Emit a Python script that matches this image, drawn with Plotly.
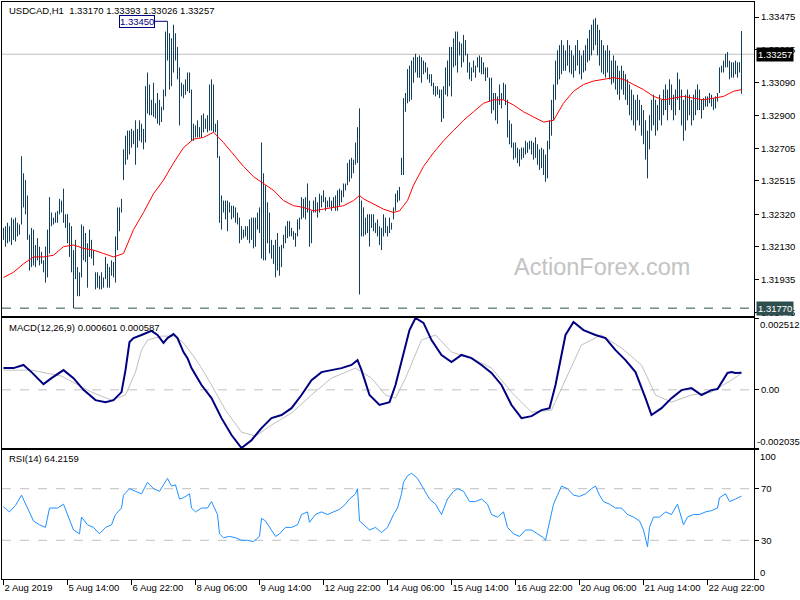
import plotly.graph_objects as go

# ---------------- data ----------------
symbol_header = "USDCAD,H1  1.33170 1.33393 1.33026 1.33257"
macd_header = "MACD(12,26,9) 0.000601 0.000587"
rsi_header = "RSI(14) 64.2159"

time_tick_idx = [0, 32, 64, 96, 128, 160, 192, 224, 256, 288, 320, 352]
time_tick_text = ["2 Aug 2019", "5 Aug 14:00", "6 Aug 22:00", "8 Aug 06:00", "9 Aug 14:00",
                  "12 Aug 22:00", "14 Aug 06:00", "15 Aug 14:00", "16 Aug 22:00",
                  "20 Aug 06:00", "21 Aug 14:00", "22 Aug 22:00"]

price_ticks = [1.33475, 1.33285, 1.33090, 1.32900, 1.32705, 1.32515, 1.32320, 1.32130, 1.31935, 1.31745]
macd_max = 0.002512
macd_min = -0.002035

high = [
1.3224,1.3225,1.3227,1.3225,1.3230,1.3229,1.3230,1.3227,1.3226,1.3266,
1.3256,1.3252,1.3243,1.3220,1.3224,1.3223,1.3214,1.3218,1.3213,1.3210,
1.3205,1.3213,1.3223,1.3242,1.3233,1.3230,1.3233,1.3234,1.3241,1.3240,
1.3247,1.3232,1.3232,1.3227,1.3225,1.3211,1.3217,1.3201,1.3198,1.3226,
1.3225,1.3221,1.3215,1.3223,1.3217,1.3211,1.3198,1.3198,1.3196,1.3198,
1.3195,1.3207,1.3203,1.3201,1.3205,1.3204,1.3219,1.3236,1.3236,1.3241,
1.3270,1.3278,1.3281,1.3281,1.3282,1.3281,1.3287,1.3282,1.3287,1.3285,
1.3282,1.3307,1.3315,1.3308,1.3299,1.3309,1.3297,1.3303,1.3299,1.3295,
1.3305,1.3339,1.3345,1.3338,1.3335,1.3343,1.3338,1.3330,1.3318,1.3309,
1.3308,1.3311,1.3315,1.3315,1.3305,1.3285,1.3284,1.3287,1.3283,1.3290,
1.3291,1.3288,1.3290,1.3308,1.3311,1.3308,1.3285,1.3287,1.3266,1.3243,
1.3240,1.3240,1.3240,1.3239,1.3237,1.3237,1.3236,1.3233,1.3230,1.3225,
1.3223,1.3225,1.3225,1.3229,1.3230,1.3230,1.3230,1.3233,1.3236,1.3274,
1.3256,1.3249,1.3239,1.3233,1.3217,1.3214,1.3217,1.3221,1.3213,1.3214,
1.3220,1.3225,1.3228,1.3228,1.3224,1.3222,1.3221,1.3229,1.3230,1.3242,
1.3241,1.3242,1.3250,1.3240,1.3234,1.3240,1.3242,1.3239,1.3244,1.3243,
1.3246,1.3242,1.3240,1.3242,1.3240,1.3242,1.3243,1.3246,1.3247,1.3246,
1.3250,1.3250,1.3262,1.3264,1.3265,1.3264,1.3274,1.3283,1.3294,1.3240,
1.3236,1.3230,1.3232,1.3232,1.3232,1.3232,1.3227,1.3229,1.3225,1.3224,
1.3232,1.3230,1.3225,1.3230,1.3227,1.3236,1.3244,1.3246,1.3248,1.3265,
1.3300,1.3303,1.3317,1.3319,1.3322,1.3324,1.3326,1.3324,1.3325,1.3324,
1.3322,1.3321,1.3318,1.3314,1.3314,1.3309,1.3307,1.3307,1.3305,1.3305,
1.3307,1.3318,1.3322,1.3330,1.3330,1.3335,1.3339,1.3339,1.3333,1.3332,
1.3337,1.3334,1.3326,1.3321,1.3318,1.3322,1.3319,1.3324,1.3325,1.3324,
1.3321,1.3318,1.3318,1.3312,1.3312,1.3303,1.3303,1.3301,1.3308,1.3303,
1.3309,1.3308,1.3299,1.3287,1.3285,1.3274,1.3274,1.3271,1.3270,1.3271,
1.3271,1.3275,1.3274,1.3275,1.3275,1.3274,1.3277,1.3273,1.3270,1.3271,
1.3270,1.3267,1.3275,1.3287,1.3299,1.3308,1.3322,1.3328,1.3331,1.3334,
1.3331,1.3328,1.3334,1.3331,1.3328,1.3325,1.3331,1.3334,1.3328,1.3325,
1.3328,1.3331,1.3335,1.3340,1.3343,1.3346,1.3347,1.3343,1.3340,1.3334,
1.3331,1.3328,1.3331,1.3328,1.3322,1.3325,1.3322,1.3319,1.3316,1.3319,
1.3316,1.3314,1.3311,1.3308,1.3305,1.3302,1.3299,1.3302,1.3299,1.3296,
1.3293,1.3287,1.3281,1.3290,1.3299,1.3302,1.3299,1.3296,1.3302,1.3299,
1.3305,1.3308,1.3305,1.3311,1.3308,1.3302,1.3305,1.3315,1.3311,1.3305,
1.3299,1.3302,1.3305,1.3302,1.3299,1.3302,1.3305,1.3308,1.3305,1.3299,
1.3300,1.3301,1.3301,1.3303,1.3302,1.3300,1.3301,1.3303,1.3318,1.3319,
1.3322,1.3326,1.3327,1.3322,1.3321,1.3321,1.3322,1.3321,1.3321,1.33393]

low = [
1.3217,1.3213,1.3215,1.3216,1.3214,1.3217,1.3216,1.3219,1.3220,1.3226,
1.3236,1.3232,1.3217,1.3199,1.3201,1.3202,1.3201,1.3205,1.3202,1.3203,
1.3198,1.3192,1.3195,1.3209,1.3225,1.3226,1.3227,1.3227,1.3232,1.3233,
1.3227,1.3224,1.3215,1.3207,1.3198,1.3177,1.3194,1.3184,1.3184,1.3195,
1.3205,1.3204,1.3189,1.3207,1.3206,1.3202,1.3188,1.3189,1.3188,1.3188,
1.3189,1.3194,1.3189,1.3189,1.3196,1.3195,1.3192,1.3211,1.3222,1.3233,
1.3252,1.3261,1.3264,1.3267,1.3271,1.3273,1.3261,1.3271,1.3275,1.3274,
1.3270,1.3274,1.3291,1.3290,1.3290,1.3289,1.3288,1.3285,1.3284,1.3286,
1.3293,1.3301,1.3322,1.3305,1.3307,1.3315,1.3322,1.3311,1.3284,1.3301,
1.3300,1.3302,1.3304,1.3303,1.3275,1.3275,1.3277,1.3277,1.3277,1.3277,
1.3280,1.3282,1.3280,1.3281,1.3281,1.3280,1.3280,1.3265,1.3227,1.3223,
1.3233,1.3229,1.3222,1.3233,1.3229,1.3230,1.3227,1.3226,1.3215,1.3217,
1.3218,1.3219,1.3217,1.3215,1.3217,1.3212,1.3213,1.3223,1.3221,1.3206,
1.3205,1.3205,1.3215,1.3209,1.3206,1.3203,1.3195,1.3199,1.3196,1.3201,
1.3212,1.3215,1.3218,1.3219,1.3219,1.3217,1.3213,1.3219,1.3223,1.3229,
1.3230,1.3229,1.3233,1.3213,1.3215,1.3233,1.3233,1.3230,1.3233,1.3236,
1.3239,1.3234,1.3236,1.3236,1.3234,1.3236,1.3234,1.3234,1.3237,1.3239,
1.3242,1.3246,1.3249,1.3251,1.3253,1.3256,1.3261,1.3262,1.3185,1.3219,
1.3219,1.3220,1.3221,1.3213,1.3224,1.3222,1.3221,1.3219,1.3214,1.3211,
1.3219,1.3221,1.3219,1.3221,1.3223,1.3229,1.3234,1.3239,1.3240,1.3255,
1.3255,1.3292,1.3297,1.3298,1.3299,1.3309,1.3315,1.3312,1.3312,1.3309,
1.3314,1.3315,1.3311,1.3309,1.3307,1.3302,1.3301,1.3302,1.3300,1.3286,
1.3288,1.3302,1.3301,1.3307,1.3301,1.3318,1.3319,1.3315,1.3325,1.3318,
1.3321,1.3325,1.3315,1.3311,1.3310,1.3315,1.3312,1.3318,1.3315,1.3314,
1.3314,1.3310,1.3312,1.3298,1.3291,1.3293,1.3287,1.3285,1.3296,1.3294,
1.3299,1.3296,1.3277,1.3273,1.3271,1.3264,1.3265,1.3262,1.3260,1.3264,
1.3265,1.3267,1.3268,1.3270,1.3267,1.3264,1.3265,1.3261,1.3258,1.3259,
1.3255,1.3251,1.3253,1.3270,1.3278,1.3287,1.3299,1.3308,1.3311,1.3314,
1.3316,1.3316,1.3319,1.3315,1.3314,1.3312,1.3316,1.3319,1.3314,1.3311,
1.3315,1.3316,1.3321,1.3322,1.3325,1.3328,1.3331,1.3325,1.3319,1.3315,
1.3314,1.3312,1.3315,1.3311,1.3308,1.3309,1.3305,1.3302,1.3299,1.3305,
1.3302,1.3299,1.3296,1.3290,1.3287,1.3284,1.3281,1.3287,1.3284,1.3278,
1.3273,1.3264,1.3253,1.3270,1.3281,1.3284,1.3278,1.3281,1.3287,1.3284,
1.3290,1.3293,1.3287,1.3296,1.3293,1.3287,1.3290,1.3299,1.3293,1.3284,
1.3275,1.3281,1.3287,1.3290,1.3284,1.3287,1.3290,1.3293,1.3293,1.3288,
1.3293,1.3295,1.3295,1.3297,1.3295,1.3293,1.3294,1.3298,1.3303,1.3315,
1.3315,1.3318,1.3318,1.3311,1.3312,1.3312,1.3314,1.3312,1.3315,1.33026]

ma_idx = [0,5,10,15,20,25,30,35,40,45,50,55,60,62,65,70,75,80,85,90,95,100,105,110,115,120,125,
          130,135,140,145,150,155,160,165,170,175,178,180,185,190,195,198,200,202,205,210,215,220,
          225,230,235,240,245,250,255,260,265,270,275,280,285,290,295,300,305,310,315,320,325,330,
          335,340,345,350,355,360,365,369]
ma_val = [1.3195,1.3198,1.3203,1.3207,1.3207,1.3208,1.3213,1.3214,1.3212,1.3211,1.3209,1.3207,1.3209,
          1.3215,1.3223,1.3233,1.3244,1.3252,1.3262,1.3271,1.3276,1.3277,1.3280,1.3274,1.3267,1.3260,
          1.3254,1.3250,1.3246,1.3240,1.3237,1.3236,1.3234,1.3235,1.3236,1.3237,1.3240,1.3243,1.3241,
          1.3238,1.3235,1.3233,1.3234,1.3237,1.3240,1.3249,1.3260,1.3268,1.3275,1.3281,1.3287,1.3292,
          1.3297,1.3299,1.3299,1.3296,1.3292,1.3289,1.3286,1.3287,1.3297,1.3304,1.3308,1.3310,1.3311,
          1.3312,1.3311,1.3308,1.3305,1.3301,1.3299,1.3300,1.3301,1.3300,1.3299,1.3300,1.3301,1.3304,
          1.3305]

macd_idx = [0,5,10,14,20,24,30,35,40,46,51,55,59,61,63,65,69,72,74,77,80,82,85,87,90,92,94,99,104,
            109,114,119,124,129,134,139,144,149,154,159,164,169,174,177,179,183,188,193,196,199,203,
            206,210,214,219,224,229,234,239,244,249,254,259,264,269,273,276,281,285,290,296,301,306,
            311,316,321,324,329,334,339,344,349,354,357,360,362,364,366,369]
macd_val = [0.00076,0.00076,0.00087,0.00062,0.00020,0.00041,0.00069,0.00041,0.00000,-0.00036,-0.00043,
            -0.00036,-0.00008,0.00069,0.00167,0.00181,0.00192,0.00199,0.00206,0.00192,0.00164,0.00181,
            0.00195,0.00181,0.00132,0.00111,0.00076,0.00017,-0.00029,-0.00099,-0.00158,-0.002035,-0.00176,
            -0.00134,-0.00099,-0.00088,-0.00064,-0.00018,0.00034,0.00062,0.00069,0.00076,0.00087,0.00104,
            0.00069,-0.00018,-0.00053,-0.00043,0.00017,0.00104,0.00209,0.002512,0.00234,0.00174,0.00122,
            0.00097,0.00122,0.00111,0.00087,0.00059,0.00017,-0.00053,-0.00099,-0.00092,-0.00071,-0.00064,
            0.00017,0.00192,0.00237,0.00209,0.00192,0.00181,0.00139,0.00104,0.00062,-0.00029,-0.00088,
            -0.00064,-0.00029,-0.00001,0.00006,-0.00018,-0.00001,0.00003,0.00034,0.00059,0.00062,0.00059,
            0.000601]

signal_idx = [0,14,29,44,54,61,66,69,72,79,86,90,95,99,104,111,119,126,134,144,154,164,176,184,191,196,
              201,209,216,224,234,244,254,264,274,281,289,299,309,319,326,334,344,354,364,369]
signal_val = [0.00069,0.00069,0.00048,-0.00008,-0.00036,-0.00018,0.00062,0.00139,0.00174,0.00188,0.00188,
              0.00164,0.00118,0.00076,0.00017,-0.00071,-0.00148,-0.00162,-0.00123,-0.00081,-0.00018,
              0.00041,0.00076,0.00041,-0.00018,-0.00029,0.00041,0.00174,0.00192,0.00132,0.00111,0.00076,
              -0.00008,-0.00078,-0.00071,0.00034,0.00157,0.00192,0.00146,0.00087,-0.00018,-0.00043,
              -0.00018,-0.00008,0.00034,0.000587]

rsi_idx = [0,3,6,9,12,15,18,21,23,27,30,33,35,38,39,42,45,48,51,54,56,59,60,63,66,69,72,75,78,81,82,
           84,86,88,90,93,94,96,99,102,104,107,108,110,113,116,119,122,125,128,129,131,134,136,138,141,
           144,147,149,152,153,156,159,162,165,168,171,173,176,177,178,180,183,186,189,192,195,197,199,
           200,202,204,207,210,213,216,219,222,225,227,230,233,236,239,242,244,247,250,252,255,258,261,
           264,267,270,271,273,275,277,279,282,285,288,291,294,296,298,300,303,306,309,312,315,318,320,
           322,323,325,328,331,334,337,340,342,345,348,351,354,357,358,361,363,366,369]
rsi_val = [56,52,57,65,55,45,42,40,55,55,58,45,38,35,48,42,40,35,40,42,50,55,65,70,68,66,75,70,68,76,78,
           72,73,62,63,66,55,52,55,55,60,50,35,32,33,32,30,30,29,33,47,45,38,33,35,40,40,42,50,52,44,50,
           52,50,52,54,58,62,66,70,45,42,38,40,36,40,50,55,66,75,80,82,78,70,62,58,50,62,68,70,68,60,60,
           62,58,50,48,52,40,35,33,38,38,35,32,30,45,58,65,72,70,65,64,66,70,72,65,60,58,55,55,50,48,45,
           38,25,40,48,48,52,50,58,42,48,50,50,52,53,55,63,66,60,62,64.2159]

bid_price = 1.33257
low_price = 1.31770
high_mark_idx = 82
high_mark_price = 1.33450

# ---------------- figure ----------------
FONT = "Liberation Sans, Arial, sans-serif"
BAR_COLOR = "#123f5e"

bx, by = [], []
for i, (h, l) in enumerate(zip(high, low)):
    bx += [i, i, None]
    by += [l, h, None]

fig = go.Figure()
fig.add_trace(go.Scatter(x=bx, y=by, mode="lines", line=dict(color=BAR_COLOR, width=1),
                         xaxis="x", yaxis="y", hoverinfo="skip"))
fig.add_trace(go.Scatter(x=ma_idx, y=ma_val, mode="lines", line=dict(color="#ff0000", width=1),
                         xaxis="x", yaxis="y", hoverinfo="skip"))
fig.add_trace(go.Scatter(x=signal_idx, y=signal_val, mode="lines", line=dict(color="#c0c0c0", width=1),
                         xaxis="x2", yaxis="y2", hoverinfo="skip"))
fig.add_trace(go.Scatter(x=macd_idx, y=macd_val, mode="lines", line=dict(color="#000080", width=2),
                         xaxis="x2", yaxis="y2", hoverinfo="skip"))
fig.add_trace(go.Scatter(x=rsi_idx, y=rsi_val, mode="lines", line=dict(color="#1e90ff", width=1),
                         xaxis="x3", yaxis="y3", hoverinfo="skip"))

XR = [-0.75, 375.25]
axis_common = dict(showline=True, mirror=True, linecolor="black", linewidth=1,
                   showgrid=False, zeroline=False, automargin=False)
tickfont = dict(family=FONT, size=9.5, color="black")

fig.update_layout(
    width=800, height=600,
    margin=dict(l=2, r=46, t=2, b=21, pad=0, autoexpand=False),
    paper_bgcolor="white", plot_bgcolor="white",
    showlegend=False,
    xaxis=dict(domain=[0, 1], anchor="y", range=XR, showticklabels=False, ticks="", **axis_common),
    xaxis2=dict(domain=[0, 1], anchor="y2", matches="x", range=XR, showticklabels=False, ticks="", **axis_common),
    xaxis3=dict(domain=[0, 1], anchor="y3", matches="x", range=XR, tickmode="array",
                tickvals=time_tick_idx, ticktext=time_tick_text, ticks="outside", ticklen=5,
                tickcolor="black", tickangle=0, ticklabelposition="outside right",
                tickfont=tickfont, **axis_common),
    yaxis=dict(domain=[0.4558, 1], anchor="x", side="right", range=[1.31724, 1.33563],
               tickmode="array", tickvals=price_ticks, ticktext=[f"{v:.5f}" for v in price_ticks],
               ticks="outside", ticklen=4, tickcolor="black", tickfont=tickfont, **axis_common),
    yaxis2=dict(domain=[0.2270, 0.4523], anchor="x2", side="right", range=[macd_min, macd_max],
                tickmode="array", tickvals=[macd_max, 0, macd_min], ticktext=["", "0.00", ""],
                ticks="outside", ticklen=4, tickcolor="black", tickfont=tickfont, **axis_common),
    yaxis3=dict(domain=[0, 0.2236], anchor="x3", side="right", range=[0, 100],
                tickmode="array", tickvals=[0, 30, 70, 100], ticktext=["", "30", "70", ""],
                ticks="outside", ticklen=4, tickcolor="black", tickfont=tickfont, **axis_common),
)

shapes = [
    dict(type="line", xref="x domain", yref="y", x0=0, x1=1, y0=bid_price, y1=bid_price,
         line=dict(color="#c0c0c0", width=1), layer="below"),
    dict(type="line", xref="x domain", yref="y", x0=0, x1=1, y0=low_price, y1=low_price,
         line=dict(color="#2f4f4f", width=1, dash="dash")),
    dict(type="line", xref="x2 domain", yref="y2", x0=0, x1=1, y0=0, y1=0,
         line=dict(color="#c0c0c0", width=1, dash="dash"), layer="below"),
    dict(type="line", xref="x3 domain", yref="y3", x0=0, x1=1, y0=70, y1=70,
         line=dict(color="#c0c0c0", width=1, dash="dash"), layer="below"),
    dict(type="line", xref="x3 domain", yref="y3", x0=0, x1=1, y0=30, y1=30,
         line=dict(color="#c0c0c0", width=1, dash="dash"), layer="below"),
]
fig.update_layout(shapes=shapes)

small = dict(family=FONT, size=9.5, color="black")
ann = [
    dict(text=symbol_header, xref="paper", yref="paper", x=0.0066, y=0.986, xanchor="left", yanchor="middle",
         showarrow=False, font=small),
    dict(text=macd_header, xref="paper", yref="paper", x=0.0066, y=0.4367, xanchor="left", yanchor="middle",
         showarrow=False, font=small),
    dict(text=rsi_header, xref="paper", yref="paper", x=0.0066, y=0.208, xanchor="left", yanchor="middle",
         showarrow=False, font=small),
    # scale extremes of the indicator windows (MT4 draws them inside the edges)
    dict(text=f"{macd_max:.6f}", xref="paper", yref="y2", x=1, y=macd_max, xanchor="left", yanchor="top",
         xshift=4, yshift=1, showarrow=False, font=small),
    dict(text=f"{macd_min:.6f}", xref="paper", yref="y2", x=1, y=macd_min, xanchor="left", yanchor="bottom",
         xshift=1, yshift=-1, showarrow=False, font=small),
    dict(text="100", xref="paper", yref="y3", x=1, y=100, xanchor="left", yanchor="top",
         xshift=4, yshift=1, showarrow=False, font=small),
    dict(text="0", xref="paper", yref="y3", x=1, y=0, xanchor="left", yanchor="bottom",
         xshift=4, yshift=-1, showarrow=False, font=small),
    dict(text="ActionForex.com", xref="paper", yref="paper", x=0.798, y=0.5407, xanchor="center",
         yanchor="middle", showarrow=False, font=dict(family=FONT, size=23.5, color="#c3c3c3")),
    dict(text=f"{high_mark_price:.5f}", xref="x", yref="y", x=high_mark_idx, y=high_mark_price,
         showarrow=True, ax=-31, ay=0, arrowhead=0, arrowwidth=1, arrowcolor="#000080", standoff=0,
         bgcolor="white", bordercolor="#000080", borderwidth=1, borderpad=0,
         font=dict(family=FONT, size=9.5, color="#000080")),
    dict(text=f"{bid_price:.5f}", xref="paper", yref="y", x=1, y=bid_price, xanchor="left", yanchor="middle",
         xshift=2, showarrow=False, bgcolor="black", borderpad=1,
         font=dict(family=FONT, size=9.5, color="white")),
    dict(text=f"{low_price:.5f}", xref="paper", yref="y", x=1, y=low_price, xanchor="left", yanchor="middle",
         xshift=2, showarrow=False, bgcolor="#2f4f4f", borderpad=1,
         font=dict(family=FONT, size=9.5, color="white")),
]
fig.update_layout(annotations=ann)

fig.write_html("out.html", config={"displayModeBar": False, "staticPlot": True},
               post_script="document.body.style.margin='0px';document.body.style.overflow='hidden';")
